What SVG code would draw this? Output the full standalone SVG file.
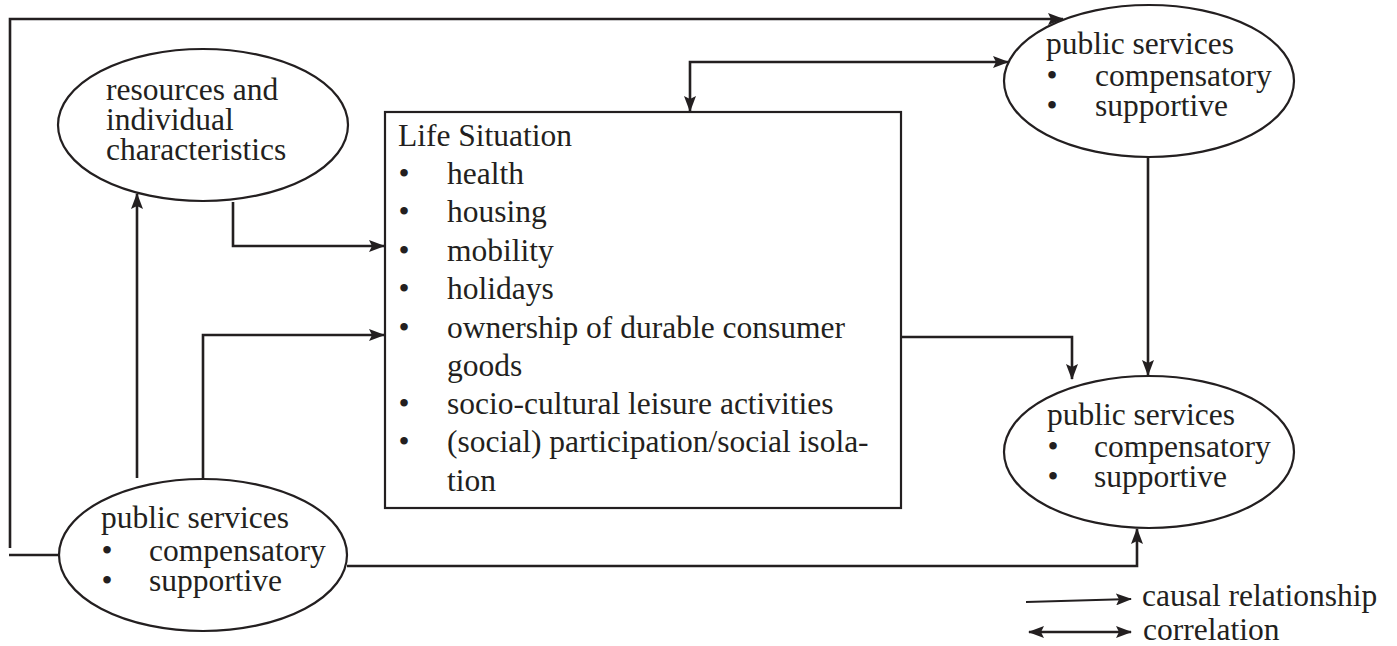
<svg xmlns="http://www.w3.org/2000/svg" width="1397" height="646" viewBox="0 0 1397 646">
<style>
  text { font-family: "Liberation Serif", "Times New Roman", serif; font-size: 31.5px; fill: #231f20; }
  .node { fill: #fff; stroke: #231f20; stroke-width: 2.2; }
  .c { fill: none; stroke: #231f20; stroke-width: 2.6; }
  .arr { marker-end: url(#ah); }
  .bi { marker-end: url(#ah); marker-start: url(#ah); }
  .b { text-anchor: middle; }
</style>
<defs>
  <marker id="ah" markerUnits="userSpaceOnUse" viewBox="0 0 16 12" refX="15" refY="6" markerWidth="16" markerHeight="12" orient="auto-start-reverse">
    <path d="M0,0 L16,6 L0,12 L3,6 Z" fill="#231f20"/>
  </marker>
</defs>
<rect width="1397" height="646" fill="#fff"/>

<g id="connectors">
  <path class="c" d="M10,548 V19 H1063" marker-end="url(#ah)"/>
  <path class="c" d="M59,555 H9"/>
  <path class="c bi" d="M1008,62 H690 V111"/>
  <path class="c arr" d="M233,202 V246 H384"/>
  <path class="c arr" d="M203,479 V335 H384"/>
  <path class="c arr" d="M137,478 V194"/>
  <path class="c arr" d="M901,337 H1072 V379"/>
  <path class="c arr" d="M1148,157 V375"/>
  <path class="c arr" d="M347,566 H1137 V529"/>
</g>

<g id="resources">
  <ellipse class="node" cx="203" cy="125" rx="145" ry="76"/>
  <text x="106" y="100">resources and</text>
  <text x="106" y="130">individual</text>
  <text x="106" y="160">characteristics</text>
</g>

<g id="life-situation">
  <rect class="node" x="385" y="112" width="516" height="396"/>
  <text x="398" y="146">Life Situation</text>
  <text class="b" x="404" y="184">•</text><text x="447" y="184">health</text>
  <text class="b" x="404" y="222">•</text><text x="447" y="222">housing</text>
  <text class="b" x="404" y="261">•</text><text x="447" y="261">mobility</text>
  <text class="b" x="404" y="299">•</text><text x="447" y="299">holidays</text>
  <text class="b" x="404" y="338">•</text><text x="447" y="338">ownership of durable consumer</text>
  <text x="447" y="376">goods</text>
  <text class="b" x="404" y="414">•</text><text x="447" y="414">socio-cultural leisure activities</text>
  <text class="b" x="404" y="452">•</text><text x="447" y="452">(social) participation/social isola-</text>
  <text x="447" y="491">tion</text>
</g>

<g id="public-services-top">
  <ellipse class="node" cx="1149" cy="81" rx="145" ry="76"/>
  <text x="1046" y="54">public services</text>
  <text class="b" x="1052" y="86">•</text><text x="1095" y="86">compensatory</text>
  <text class="b" x="1052" y="116">•</text><text x="1095" y="116">supportive</text>
</g>

<g id="public-services-right">
  <ellipse class="node" cx="1149" cy="452" rx="145" ry="76"/>
  <text x="1047" y="425">public services</text>
  <text class="b" x="1053" y="457">•</text><text x="1094" y="457">compensatory</text>
  <text class="b" x="1053" y="487">•</text><text x="1094" y="487">supportive</text>
</g>

<g id="public-services-left">
  <ellipse class="node" cx="203" cy="555" rx="144" ry="76"/>
  <text x="101" y="528">public services</text>
  <text class="b" x="107" y="561">•</text><text x="149" y="561">compensatory</text>
  <text class="b" x="107" y="591">•</text><text x="149" y="591">supportive</text>
</g>

<g id="legend">
  <path class="c arr" d="M1026,602 L1131,599" style="stroke-width:2"/>
  <path class="c bi" d="M1029,632 H1131"/>
  <text x="1142" y="606">causal relationship</text>
  <text x="1143" y="640">correlation</text>
</g>
</svg>
